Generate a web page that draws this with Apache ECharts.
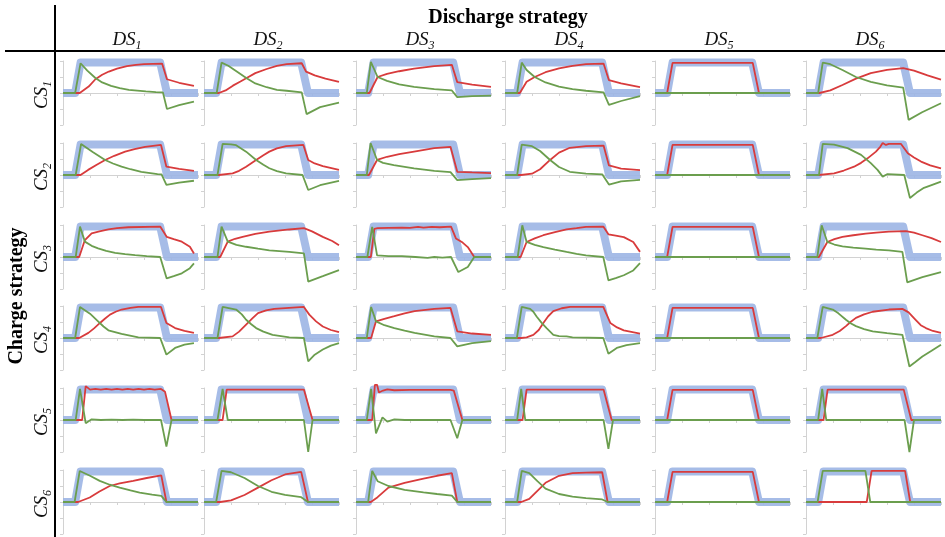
<!DOCTYPE html>
<html><head><meta charset="utf-8">
<script src="https://cdn.jsdelivr.net/npm/echarts@6/dist/echarts.min.js"></script>
<style>html,body{margin:0;padding:0;background:#fff}#c{width:945px;height:537px}</style>
</head><body><div id="c"></div>
<script>
// ---------- labels ----------
const topTitle = 'Discharge strategy';
const sideTitle = 'Charge strategy';
const dsLabels = ['1','2','3','4','5','6'];
const csLabels = ['1','2','3','4','5','6'];
const xTickValues = [0,1,2,3,4,5];
const yTickValues = [-1,-0.5,0,0.5,1];

// ---------- demand (blue) ----------
const blue = [[0,0],[0.45,0],[0.65,0.95],[3.6,0.95],[3.85,0],[5,0]];

// ---------- CS1 ----------
const r11 = [[0,0],[0.62,0],[0.95,0.2],[1.2,0.43],[1.45,0.57],[1.7,0.67],[2.0,0.76],[2.37,0.84],[2.7,0.88],[3.0,0.9],[3.67,0.92],[3.85,0.43],[4.3,0.32],[4.85,0.22]];
const g11 = [[0,0],[0.45,0],[0.65,0.93],[0.9,0.7],[1.2,0.47],[1.45,0.33],[1.78,0.22],[2.1,0.15],[2.44,0.1],[3.07,0.05],[3.44,0.03],[3.7,0.02],[3.85,-0.5],[4.3,-0.38],[4.85,-0.27]];
const r12 = [[0,0],[0.55,0],[0.8,0.08],[1.07,0.23],[1.35,0.36],[1.58,0.47],[1.9,0.62],[2.32,0.75],[2.7,0.85],[3.06,0.9],[3.62,0.93],[3.78,0.67],[4.1,0.55],[4.5,0.45],[5,0.35]];
const g12 = [[0,0],[0.47,0],[0.65,0.95],[0.9,0.85],[1.2,0.68],[1.58,0.46],[1.9,0.3],[2.32,0.18],[2.7,0.1],[3.06,0.07],[3.62,0.02],[3.8,-0.66],[4.3,-0.44],[5,-0.3]];
const r13 = [[0,0],[0.5,0],[0.8,0.5],[1.15,0.6],[1.6,0.68],[2.15,0.76],[2.9,0.84],[3.55,0.88],[3.75,0.34],[4.3,0.26],[5,0.19]];
const g13 = [[0,0],[0.4,0],[0.55,0.97],[0.8,0.5],[1.15,0.38],[1.6,0.27],[2.15,0.19],[2.9,0.12],[3.55,0.08],[3.75,-0.13],[4.3,-0.1],[5,-0.08]];
const r14 = [[0,0],[0.55,0],[0.8,0.35],[1.1,0.5],[1.5,0.65],[2.0,0.77],[2.5,0.85],[3.0,0.9],[3.65,0.92],[3.85,0.4],[4.3,0.3],[5,0.18]];
const g14 = [[0,0],[0.45,0],[0.62,0.95],[0.8,0.72],[1.1,0.5],[1.5,0.33],[2.0,0.2],[2.5,0.12],[3.0,0.07],[3.65,0.02],[3.85,-0.37],[4.3,-0.25],[5,-0.1]];
const r15 = [[0,0],[0.45,0],[0.65,0.94],[3.62,0.94],[3.85,0],[5,0]];
const g15 = [[0,0],[5,0]];
const r16 = [[0,0],[0.5,0],[0.9,0.08],[1.35,0.25],[1.85,0.45],[2.4,0.62],[3.0,0.72],[3.6,0.78],[4.0,0.7],[4.5,0.55],[5,0.42]];
const g16 = [[0,0],[0.45,0],[0.62,0.95],[0.9,0.9],[1.35,0.72],[1.85,0.5],[2.4,0.35],[3.0,0.24],[3.6,0.17],[3.8,-0.84],[4.3,-0.6],[5,-0.32]];

// ---------- CS2 ----------
const r21 = [[0,0],[0.65,0],[0.93,0.16],[1.25,0.32],[1.56,0.47],[1.9,0.6],[2.3,0.73],[2.65,0.81],[3.04,0.88],[3.63,0.94],[3.83,0.26],[4.3,0.19],[4.85,0.13]];
const g21 = [[0,0],[0.47,0],[0.67,0.97],[1.1,0.72],[1.56,0.47],[1.85,0.36],[2.17,0.26],[2.5,0.18],[2.9,0.1],[3.5,0.03],[3.65,0.02],[3.83,-0.31],[4.3,-0.24],[4.85,-0.18]];
const r22 = [[0,0],[0.55,0],[1.06,0.05],[1.3,0.13],[1.56,0.26],[1.93,0.47],[2.2,0.62],[2.42,0.73],[2.7,0.83],[3.04,0.9],[3.68,0.94],[3.86,0.47],[4.1,0.36],[4.4,0.28],[5,0.16]];
const g22 = [[0,0],[0.5,0],[0.69,0.97],[1.0,0.96],[1.19,0.93],[1.56,0.73],[1.93,0.47],[2.2,0.32],[2.42,0.21],[2.7,0.12],[3.04,0.05],[3.65,0],[3.86,-0.47],[4.3,-0.32],[5,-0.18]];
const r23 = [[0,0],[0.48,0],[0.78,0.47],[1.15,0.57],[1.6,0.65],[2.15,0.73],[2.9,0.84],[3.5,0.88],[3.75,0.1],[4.3,0.08],[5,0.06]];
const g23 = [[0,0],[0.4,0],[0.54,1.0],[0.78,0.47],[1.0,0.38],[1.4,0.31],[2.15,0.21],[2.9,0.13],[3.5,0.09],[3.75,-0.16],[4.3,-0.13],[5,-0.1]];
const r24 = [[0,0],[0.6,0],[1.0,0.04],[1.3,0.18],[1.67,0.47],[2.0,0.7],[2.4,0.85],[3.0,0.9],[3.65,0.92],[3.85,0.3],[4.3,0.2],[5,0.15]];
const g24 = [[0,0],[0.45,0],[0.62,0.95],[1.0,0.9],[1.3,0.75],[1.67,0.47],[2.0,0.25],[2.4,0.1],[3.0,0.04],[3.6,0.02],[3.85,-0.3],[4.3,-0.2],[5,-0.15]];
const r25 = [[0,0],[0.45,0],[0.65,0.94],[3.62,0.94],[3.85,0],[5,0]];
const g25 = [[0,0],[5,0]];
const r26 = [[0,0],[0.48,0],[1.04,0.05],[1.4,0.14],[1.78,0.26],[2.04,0.38],[2.28,0.52],[2.59,0.73],[2.75,0.88],[2.84,1.0],[2.96,0.94],[3.07,0.97],[3.52,0.97],[3.77,0.68],[4.0,0.55],[4.26,0.42],[4.6,0.3],[5,0.21]];
const g26 = [[0,0],[0.48,0],[0.62,0.97],[1.04,0.95],[1.54,0.84],[2.04,0.63],[2.4,0.37],[2.65,0.16],[2.84,-0.05],[3.02,0.03],[3.64,0],[3.85,-0.72],[4.1,-0.55],[4.37,-0.4],[4.7,-0.3],[5,-0.21]];

// ---------- CS3 ----------
const r31 = [[0,0],[0.6,0],[0.81,0.53],[1.06,0.74],[1.35,0.8],[1.68,0.86],[2.0,0.9],[2.42,0.93],[3.6,0.95],[3.84,0.63],[4.1,0.56],[4.4,0.48],[4.7,0.32],[4.85,0.11]];
const g31 = [[0,0],[0.47,0],[0.63,0.95],[0.81,0.48],[1.06,0.35],[1.3,0.27],[1.6,0.19],[1.93,0.13],[2.3,0.09],[2.67,0.06],[3.1,0.03],[3.6,0],[3.84,-0.67],[4.1,-0.6],[4.4,-0.51],[4.7,-0.35],[4.85,-0.2]];
const r32 = [[0,0],[0.6,0],[0.88,0.48],[1.15,0.57],[1.43,0.63],[1.9,0.72],[2.42,0.79],[3.16,0.86],[3.7,0.9],[4.0,0.8],[4.4,0.63],[4.75,0.5],[5,0.37]];
const g32 = [[0,0],[0.5,0],[0.65,0.95],[0.88,0.48],[1.2,0.38],[1.56,0.32],[2.0,0.26],[2.42,0.21],[3.16,0.16],[3.7,0.11],[3.86,-0.77],[4.4,-0.6],[5,-0.41]];
const r33 = [[0,0],[0.55,0],[0.68,0.88],[0.8,0.9],[1.2,0.91],[1.7,0.92],[2.0,0.91],[2.3,0.94],[2.5,0.92],[2.8,0.94],[3.1,0.93],[3.52,0.95],[3.7,0.58],[3.95,0.45],[4.14,0.31],[4.38,0],[5,0]];
const g33 = [[0,0],[0.42,0],[0.6,0.94],[0.78,0.05],[1.2,0.03],[1.7,0.03],[2.2,0],[2.65,-0.03],[2.9,0],[3.2,-0.02],[3.52,0],[3.79,-0.47],[4.14,-0.31],[4.38,0],[5,0]];
const r34 = [[0,0],[0.58,0],[0.8,0.47],[1.1,0.58],[1.42,0.68],[1.85,0.78],[2.28,0.86],[2.65,0.9],[3.0,0.94],[3.64,0.95],[3.83,0.71],[4.1,0.67],[4.4,0.62],[4.75,0.47],[5,0.16]];
const g34 = [[0,0],[0.47,0],[0.64,0.99],[0.8,0.47],[1.1,0.38],[1.42,0.31],[1.85,0.23],[2.28,0.16],[2.65,0.1],[3.0,0.05],[3.64,0],[3.83,-0.73],[4.1,-0.66],[4.4,-0.57],[4.75,-0.42],[5,-0.19]];
const r35 = [[0,0],[0.45,0],[0.65,0.94],[3.62,0.94],[3.85,0],[5,0]];
const g35 = [[0,0],[5,0]];
const r36 = [[0,0],[0.48,0],[0.79,0.47],[1.05,0.56],[1.35,0.63],[1.75,0.68],[2.21,0.73],[2.6,0.76],[3.07,0.79],[3.7,0.81],[4.0,0.76],[4.31,0.68],[4.65,0.59],[5,0.47]];
const g36 = [[0,0],[0.42,0],[0.58,0.99],[0.79,0.47],[1.05,0.39],[1.35,0.33],[1.75,0.29],[2.21,0.26],[2.6,0.23],[3.07,0.21],[3.57,0.16],[3.75,-0.79],[4.31,-0.63],[5,-0.47]];

// ---------- CS4 ----------
const r41 = [[0,0],[0.6,0],[0.94,0.16],[1.15,0.3],[1.37,0.47],[1.55,0.6],[1.74,0.73],[1.95,0.82],[2.17,0.89],[2.5,0.94],[2.79,0.97],[3.63,0.97],[3.83,0.47],[4.15,0.31],[4.5,0.22],[4.85,0.16]];
const g41 = [[0,0],[0.45,0],[0.63,0.97],[1.0,0.76],[1.3,0.52],[1.5,0.36],[1.68,0.24],[2.17,0.13],[2.79,0.02],[3.6,0],[3.83,-0.52],[4.15,-0.31],[4.5,-0.21],[4.85,-0.16]];
const r42 = [[0,0],[0.55,0],[1.06,0.05],[1.3,0.2],[1.56,0.42],[1.8,0.62],[2.0,0.78],[2.3,0.86],[2.6,0.91],[3.7,0.97],[3.9,0.73],[4.15,0.52],[4.4,0.36],[4.7,0.25],[5,0.18]];
const g42 = [[0,0],[0.5,0],[0.69,0.97],[1.19,0.89],[1.4,0.74],[1.56,0.57],[1.75,0.43],[1.93,0.31],[2.2,0.2],[2.54,0.1],[3.16,0.02],[3.7,0],[3.86,-0.73],[4.1,-0.52],[4.4,-0.36],[4.7,-0.24],[5,-0.16]];
const r43 = [[0,0],[0.56,0],[0.74,0.52],[1.05,0.6],[1.42,0.68],[1.8,0.77],[2.17,0.84],[2.9,0.91],[3.5,0.94],[3.75,0.21],[4.3,0.14],[5,0.1]];
const g43 = [[0,0],[0.4,0],[0.56,0.97],[0.74,0.52],[1.05,0.4],[1.42,0.31],[1.8,0.23],[2.17,0.16],[2.9,0.05],[3.5,0],[3.75,-0.26],[4.3,-0.16],[5,-0.1]];
const r44 = [[0,0],[0.6,0],[0.8,0.02],[1.05,0.1],[1.25,0.25],[1.42,0.47],[1.6,0.68],[1.79,0.84],[2.1,0.93],[2.41,0.97],[3.64,0.97],[3.9,0.47],[4.15,0.33],[4.4,0.24],[5,0.14]];
const g44 = [[0,0],[0.44,0],[0.62,0.97],[0.93,0.91],[1.05,0.82],[1.17,0.67],[1.35,0.48],[1.54,0.31],[1.79,0.1],[2.0,0.06],[2.28,0.05],[2.5,0.02],[3.64,0],[3.83,-0.49],[4.14,-0.31],[4.5,-0.22],[5,-0.16]];
const r45 = [[0,0],[0.45,0],[0.65,0.94],[3.62,0.94],[3.85,0],[5,0]];
const g45 = [[0,0],[5,0]];
const r46 = [[0,0],[0.55,0],[0.99,0.1],[1.25,0.22],[1.48,0.37],[1.65,0.5],[1.85,0.63],[2.15,0.74],[2.47,0.82],[3.07,0.89],[3.57,0.91],[3.8,0.8],[4.06,0.57],[4.25,0.4],[4.44,0.31],[4.7,0.22],[5,0.16]];
const g46 = [[0,0],[0.42,0],[0.62,0.97],[0.99,0.89],[1.2,0.77],[1.48,0.57],[1.65,0.46],[1.85,0.37],[2.15,0.28],[2.47,0.21],[3.0,0.15],[3.57,0.1],[3.83,-0.89],[4.05,-0.75],[4.31,-0.58],[4.65,-0.4],[5,-0.21]];

// ---------- CS5 ----------
const r51 = [[0,0],[0.71,0],[0.84,1.06],[1.0,0.95],[1.2,0.97],[1.4,0.95],[1.6,0.97],[1.8,0.95],[2.0,0.97],[2.2,0.95],[2.4,0.97],[2.6,0.95],[2.8,0.97],[3.0,0.95],[3.2,0.97],[3.4,0.95],[3.63,0.97],[3.78,0.88],[4.02,0],[5,0]];
const g51 = [[0,0],[0.47,0],[0.63,0.97],[0.84,-0.1],[1.06,0.02],[1.4,0],[1.8,0.01],[2.2,0],[2.6,0.01],[3.0,0],[3.63,0],[3.83,-0.83],[4.02,0],[5,0]];
const r52 = [[0,0],[0.69,0],[0.84,0.95],[3.7,0.95],[4.02,0],[5,0]];
const g52 = [[0,0],[0.5,0],[0.69,0.97],[0.88,0],[3.7,0],[3.86,-1.0],[4.02,0],[5,0]];
const r53 = [[0,0],[0.6,0],[0.7,1.1],[0.78,1.1],[0.85,0.86],[1.0,0.92],[1.16,0.96],[1.42,0.93],[2.0,0.94],[3.0,0.94],[3.5,0.94],[3.62,0.92],[3.94,0],[5,0]];
const g53 = [[0,0],[0.4,0],[0.56,0.97],[0.74,-0.42],[0.98,0.08],[1.16,-0.05],[1.42,0.02],[1.8,0],[3.5,0],[3.75,-0.57],[3.94,0],[5,0]];
const r54 = [[0,0],[0.65,0],[0.8,0.95],[3.65,0.95],[3.95,0],[5,0]];
const g54 = [[0,0],[0.45,0],[0.6,0.97],[0.75,0],[3.65,0],[3.83,-0.9],[4.0,0],[5,0]];
const r55 = [[0,0],[0.45,0],[0.65,0.94],[3.62,0.94],[3.85,0],[5,0]];
const g55 = [[0,0],[5,0]];
const r56 = [[0,0],[0.65,0],[0.8,0.95],[3.62,0.95],[3.9,0],[5,0]];
const g56 = [[0,0],[0.45,0],[0.6,0.97],[0.75,0],[3.65,0],[3.83,-1.0],[4.0,0],[5,0]];

// ---------- CS6 ----------
const r61 = [[0,0],[0.56,0],[0.99,0.14],[1.35,0.33],[1.73,0.5],[2.1,0.58],[2.6,0.66],[3.1,0.75],[3.64,0.83],[3.83,0],[5,0]];
const g61 = [[0,0],[0.43,0],[0.62,0.97],[1.0,0.82],[1.36,0.66],[1.73,0.54],[2.1,0.45],[2.5,0.36],[2.84,0.29],[3.3,0.23],[3.64,0.19],[3.83,0],[5,0]];
const r62 = [[0,0],[0.6,0],[1.0,0.05],[1.5,0.22],[2.0,0.45],[2.5,0.68],[3.0,0.86],[3.6,0.94],[3.85,0],[5,0]];
const g62 = [[0,0],[0.45,0],[0.65,0.97],[1.0,0.93],[1.5,0.75],[2.0,0.5],[2.5,0.32],[3.0,0.22],[3.6,0.15],[3.85,0],[5,0]];
const r63 = [[0,0],[0.55,0],[0.8,0.15],[1.2,0.45],[1.8,0.6],[2.5,0.73],[3.0,0.82],[3.55,0.9],[3.75,0],[5,0]];
const g63 = [[0,0],[0.45,0],[0.6,0.97],[0.8,0.65],[1.2,0.5],[1.8,0.38],[2.5,0.3],[3.0,0.25],[3.55,0.2],[3.75,0],[5,0]];
const r64 = [[0,0],[0.6,0],[0.9,0.1],[1.2,0.35],[1.5,0.6],[2.0,0.82],[2.5,0.9],[3.0,0.92],[3.6,0.93],[3.8,0],[5,0]];
const g64 = [[0,0],[0.45,0],[0.62,0.97],[0.9,0.9],[1.2,0.65],[1.5,0.42],[2.0,0.25],[2.5,0.17],[3.0,0.12],[3.6,0.08],[3.8,0],[5,0]];
const r65 = [[0,0],[0.45,0],[0.65,0.94],[3.62,0.94],[3.85,0],[5,0]];
const g65 = [[0,0],[5,0]];
const r66 = [[0,0],[2.25,0],[2.43,0.97],[3.67,0.97],[3.86,0],[5,0]];
const g66 = [[0,0],[0.43,0],[0.62,0.97],[2.2,0.97],[2.38,0],[5,0]];

// tables built from the arrays above
const redTable = [
  [r11,r12,r13,r14,r15,r16],[r21,r22,r23,r24,r25,r26],[r31,r32,r33,r34,r35,r36],
  [r41,r42,r43,r44,r45,r46],[r51,r52,r53,r54,r55,r56],[r61,r62,r63,r64,r65,r66]];
const greenTable = [
  [g11,g12,g13,g14,g15,g16],[g21,g22,g23,g24,g25,g26],[g31,g32,g33,g34,g35,g36],
  [g41,g42,g43,g44,g45,g46],[g51,g52,g53,g54,g55,g56],[g61,g62,g63,g64,g65,g66]];

// ---------- layout ----------
const colLeft = [63, 204, 356, 505, 655, 806];
const rowZero = [93, 175, 257, 338, 420, 502];
const plotW = 135, halfH = 32;
const BLUE = '#9cb5e4', RED = '#d83b3c', GREEN = '#6b9e4e', AX = '#d2d2d2';
const SERIF = '"Liberation Serif","Times New Roman",serif';

const grids = [], xAxes = [], yAxes = [], series = [];
for (let r = 0; r < 6; r++) {
  for (let c = 0; c < 6; c++) {
    const i = grids.length;
    grids.push({left: colLeft[c], top: rowZero[r] - halfH, width: plotW, height: 2 * halfH, containLabel: false});
    xAxes.push({gridIndex: i, type: 'value', min: xTickValues[0], max: xTickValues[xTickValues.length-1], interval: 1,
      axisLine: {show: true, onZero: true, lineStyle: {color: AX, width: 1}},
      axisTick: {show: true, length: 3, lineStyle: {color: AX}},
      axisLabel: {show: false}, splitLine: {show: false}});
    yAxes.push({gridIndex: i, type: 'value', min: yTickValues[0], max: yTickValues[yTickValues.length-1], interval: 0.5,
      axisLine: {show: true, onZero: false, lineStyle: {color: AX, width: 1}},
      axisTick: {show: true, length: 3, lineStyle: {color: AX}},
      axisLabel: {show: false}, splitLine: {show: false}});
    const base = {type: 'line', xAxisIndex: i, yAxisIndex: i, showSymbol: false, symbol: 'none', silent: true, clip: false, animation: false};
    series.push(Object.assign({}, base, {data: blue, z: 1, lineStyle: {color: BLUE, width: 8, join: 'round', opacity: 0.9}}));
    series.push(Object.assign({}, base, {data: redTable[r][c], z: 2, lineStyle: {color: RED, width: 1.8}}));
    series.push(Object.assign({}, base, {data: greenTable[r][c], z: 3, lineStyle: {color: GREEN, width: 1.8}}));
  }
}

const rich = {
  m: {fontFamily: SERIF, fontStyle: 'italic', fontSize: 19, lineHeight: 23, fill: '#111'},
  s: {fontFamily: SERIF, fontStyle: 'italic', fontSize: 12, lineHeight: 12, verticalAlign: 'bottom', fill: '#111'}
};
const graphics = [
  {type: 'line', shape: {x1: 55, y1: 5, x2: 55, y2: 537}, style: {stroke: '#000', lineWidth: 2}, silent: true},
  {type: 'line', shape: {x1: 5, y1: 51, x2: 945, y2: 51}, style: {stroke: '#000', lineWidth: 2}, silent: true},
  {type: 'text', x: 508, y: 18, style: {text: topTitle, font: 'bold 20px ' + SERIF, fill: '#000', textAlign: 'center', textVerticalAlign: 'middle'}},
  {type: 'text', x: 17, y: 296, rotation: Math.PI / 2, style: {text: sideTitle, font: 'bold 20px ' + SERIF, fill: '#000', textAlign: 'center', textVerticalAlign: 'middle'}}
];
dsLabels.forEach((d, c) => graphics.push({type: 'text', x: colLeft[c] + 64, y: 40,
  style: {text: '{m|DS}{s|' + d + '}', rich: rich, textAlign: 'center', textVerticalAlign: 'middle'}}));
csLabels.forEach((d, r) => graphics.push({type: 'text', x: 42, y: rowZero[r] + 2, rotation: Math.PI / 2,
  style: {text: '{m|CS}{s|' + d + '}', rich: rich, textAlign: 'center', textVerticalAlign: 'middle'}}));

const chart = echarts.init(document.getElementById('c'), null, {renderer: 'canvas'});
chart.setOption({animation: false, backgroundColor: '#fff', grid: grids, xAxis: xAxes, yAxis: yAxes, series: series, graphic: graphics});
</script></body></html>
